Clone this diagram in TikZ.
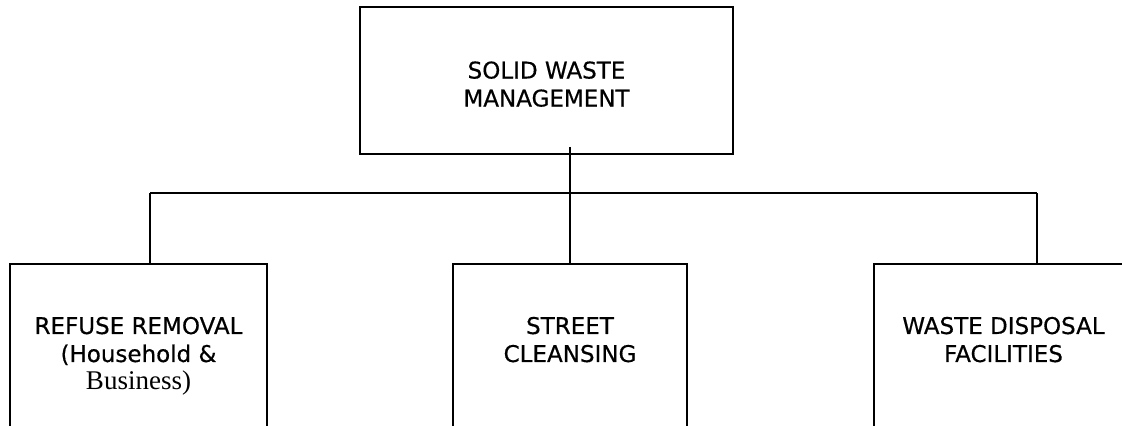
\documentclass[tikz,border=0pt]{standalone}
\usepackage{fontspec}
\setmainfont{DejaVu Sans}[FakeBold=0.5]
\newfontfamily\timesfont{Liberation Serif}
\usetikzlibrary{positioning}

\begin{document}
\begin{tikzpicture}[
  x=0.5pt, y=-0.5pt,
  line width=0.9pt,
  font=\fontsize{11.5}{14}\selectfont,
  topbox/.style={draw,minimum width=186.5pt,minimum height=73.5pt,align=center,inner sep=0pt},
  subbox/.style={draw,anchor=north,align=center,inner xsep=0pt,inner ysep=26.5pt,text depth=80pt}
]
\clip (0,0) rectangle (1122,425);
\node[topbox,text height=26pt,text depth=0pt] (mgmt) at (546.5,80.5) {SOLID WASTE\\MANAGEMENT};
\node[subbox,minimum width=128.5pt] (refuse) at (138.5,263) {REFUSE REMOVAL\\(Household \&\\{\timesfont\fontsize{13.5}{14}\selectfont Business)}};
\node[subbox,minimum width=117pt] (street) at (570,263) {STREET\\CLEANSING};
\node[subbox,minimum width=129.5pt] (disposal) at (1003.5,263) {WASTE DISPOSAL\\FACILITIES};
% branch lines
\coordinate (busL) at (150,193);
\coordinate (busR) at (1037,193);
\draw ([yshift=4pt]street.north |- mgmt.south) -- (street.north);
\draw (busL) -- (busR);
\draw (busL) -- (busL |- refuse.north);
\draw (busR) -- (busR |- disposal.north);
\end{tikzpicture}
\end{document}
